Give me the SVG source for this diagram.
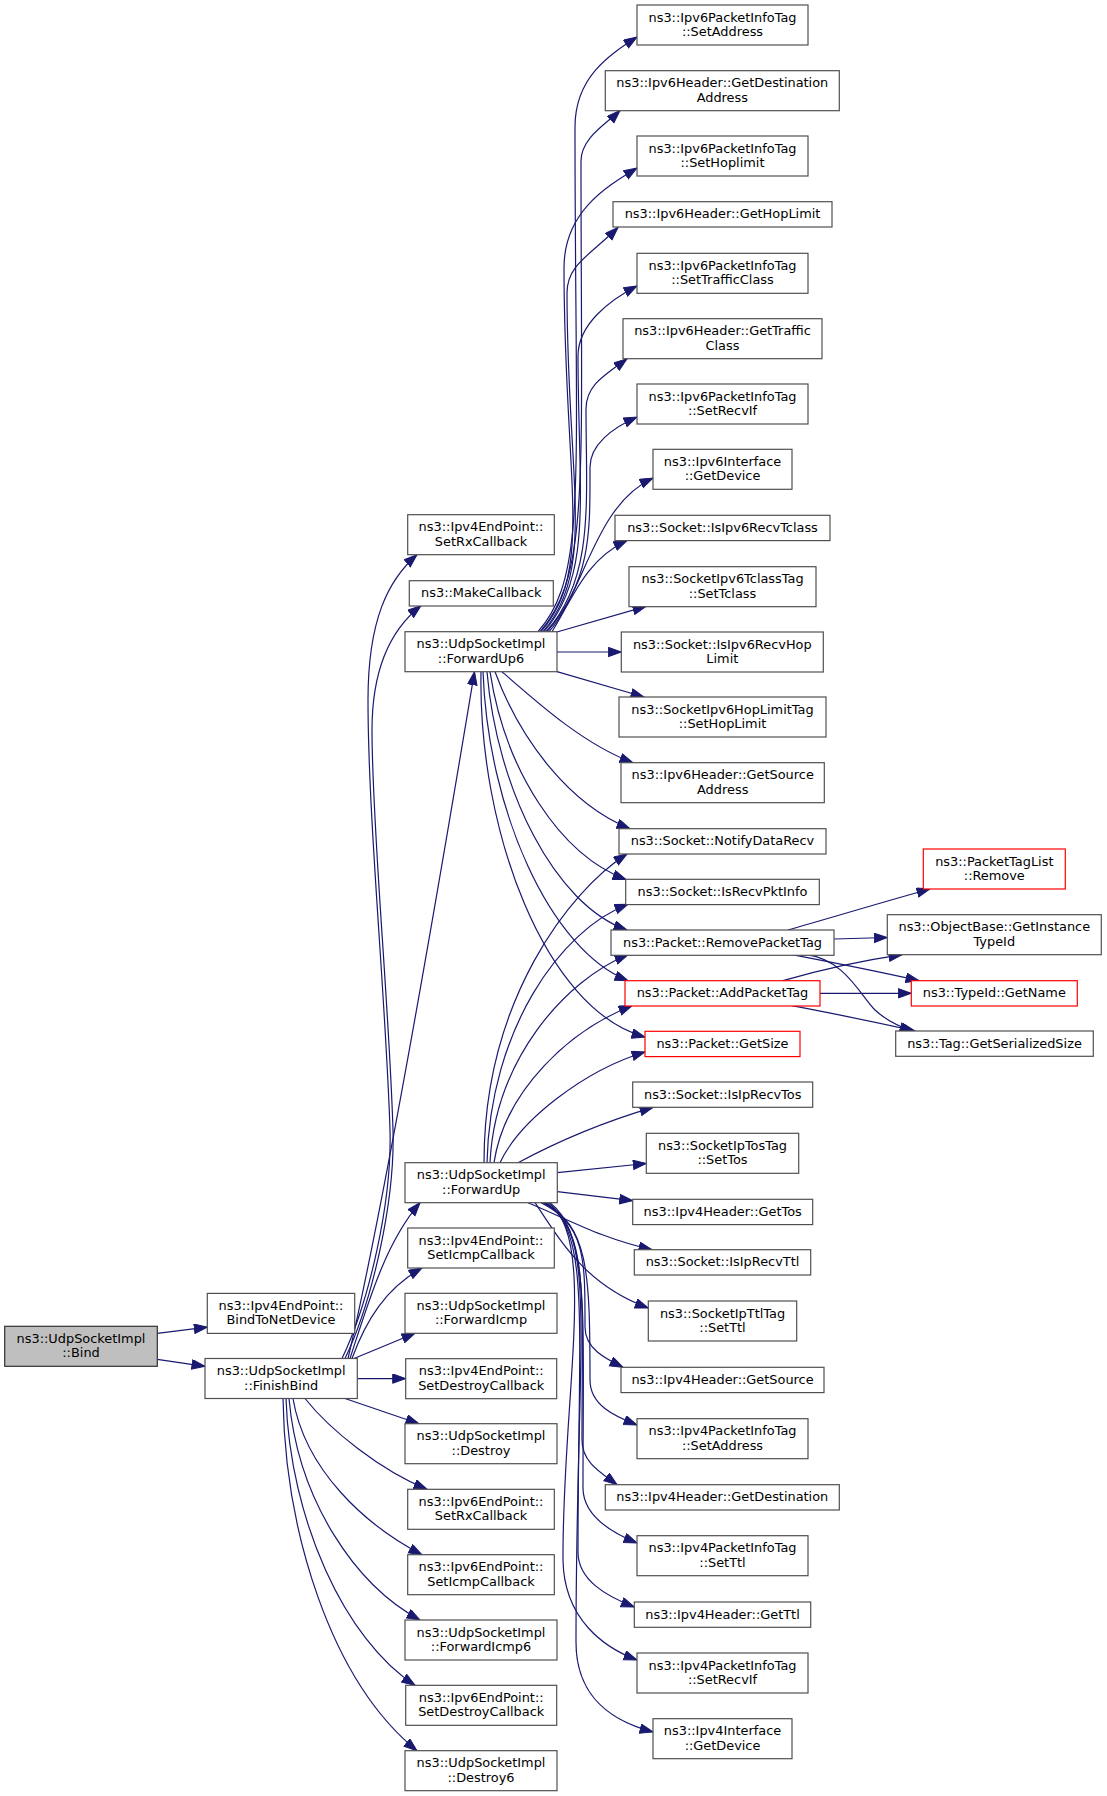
<svg xmlns="http://www.w3.org/2000/svg" width="1107" height="1796" viewBox="0 0 1107 1796">
<style>
.n rect{fill:#ffffff;stroke:#505050;stroke-width:1.2}
.r rect{fill:#ffffff;stroke:#ff0000;stroke-width:1.2}
.g rect{fill:#bfbfbf;stroke:#303030;stroke-width:1.2}
text{font-family:"DejaVu Sans","Liberation Sans",sans-serif;font-size:12.9px;fill:#000;text-anchor:middle}
#edges path{fill:none;stroke:#191970;stroke-width:1.2;marker-end:url(#ah)}
</style>
<defs>
<marker id="ah" markerUnits="userSpaceOnUse" markerWidth="15" markerHeight="11" refX="13.5" refY="5" orient="auto">
<path d="M0.5,0.3 L13.5,5 L0.5,9.7 Z" fill="#191970" stroke="#191970" stroke-width="1"/>
</marker>
</defs>
<rect x="0" y="0" width="1107" height="1796" fill="#ffffff"/>
<g id="edges">
<path d="M157.3,1333.3 L207.3,1327.2"/>
<path d="M157.3,1359.3 L205,1366.3"/>
<path d="M342,1358.5 C370,1300 392,1200 390,1130 C386,1000 368,820 368,700 C368,620 388,580 417,554.7"/>
<path d="M345,1358.5 C373,1300 395,1200 393,1130 C389,1000 372,830 372,730 C372,670 390,630 421,605.7"/>
<path d="M348,1358.5 Q390,1180 474.5,671.7"/>
<path d="M350,1358.5 C372,1290 388,1240 420,1202.7"/>
<path d="M352,1358.5 C366,1320 386,1288 422,1268"/>
<path d="M354,1358.5 L415,1333.3"/>
<path d="M357.3,1378.6 L405.7,1378.6"/>
<path d="M345,1398.5 L419,1423.7"/>
<path d="M305,1398.5 C330,1430 380,1470 427,1489.3"/>
<path d="M293,1398.5 C305,1470 365,1525 422,1554.7"/>
<path d="M289,1398.5 C298,1500 355,1585 420,1620"/>
<path d="M286,1398.5 C290,1520 345,1640 415,1685.3"/>
<path d="M283,1398.5 C285,1530 330,1680 417,1750.7"/>
<path d="M538,631.7 C588,575 575,480 575,127 C575,77.5 609,55 637,37"/>
<path d="M540,631.7 C590,575 581,480 581,161 C581,138 606,124 620,110.5"/>
<path d="M541,631.7 C595,570 564,480 564,268 C564,213 604,188 637,168"/>
<path d="M543,631.7 C597,570 567,480 567,293 C567,265 590,255 618,227.5"/>
<path d="M544,631.7 C594,575 578,490 578,356 C578,324 610,300 637,286"/>
<path d="M546,631.7 C595,578 586,500 586,409 C586,385 605,375 627,358.8"/>
<path d="M547,631.7 C592,580 590,530 590,467 C590,445 612,428 637,417"/>
<path d="M549,631.7 C585,590 595,505 653,478"/>
<path d="M552,631.7 C572,600 585,560 627,540.5"/>
<path d="M557,632 L646,606.3"/>
<path d="M557,652 L621.3,652"/>
<path d="M557,671.7 L644,697"/>
<path d="M502,671.7 C540,705 585,745 633,762.7"/>
<path d="M495,671.7 C520,740 570,805 630,828.7"/>
<path d="M490,671.7 C505,770 560,855 626,879.5"/>
<path d="M487,671.7 C497,790 555,905 627,930"/>
<path d="M483,671.7 C488,810 550,950 628,980.7"/>
<path d="M481,671.7 C478,830 545,1010 645,1037"/>
<path d="M484,1162.7 C484,1000 570,890 627,854"/>
<path d="M487,1162.7 C490,1030 560,930 628,904.3"/>
<path d="M490,1162.7 C495,1060 565,980 628,954.7"/>
<path d="M494,1162.7 C505,1090 570,1030 632,1005.7"/>
<path d="M500,1162.7 C520,1120 585,1070 645,1052"/>
<path d="M518,1162.7 C560,1140 610,1120 653,1107.3"/>
<path d="M557.3,1172.7 L646.3,1163.5"/>
<path d="M557.3,1191.7 L632.7,1200.7"/>
<path d="M528,1202.7 C570,1220 600,1238 652,1249.7"/>
<path d="M535,1202.7 C560,1240 585,1285 648.3,1308"/>
<path d="M541,1202.7 C586,1225 585,1260 585,1327 C585,1349 606,1359 623,1367.3"/>
<path d="M543,1202.7 C588,1225 590,1270 590,1380 C590,1405 614,1416 637,1425"/>
<path d="M544,1202.7 C589,1228 582,1290 582,1440 C582,1462 600,1472 617,1484.7"/>
<path d="M545,1202.7 C590,1230 583,1300 583,1488 C583,1515 610,1532 637,1543"/>
<path d="M546,1202.7 C591,1232 578,1320 578,1552 C578,1580 606,1596 634.3,1607"/>
<path d="M548,1202.7 C598,1235 562,1400 563,1560 C564,1620 605,1648 637,1660"/>
<path d="M550,1202.7 C598,1240 576,1350 576,1642 C576,1700 615,1722 653,1732"/>
<path d="M788,930 C830,918 890,900 930,889"/>
<path d="M834,939 L887.3,937.5"/>
<path d="M792,954.7 C830,962 880,972 919,980.7"/>
<path d="M807,954.7 C845,960 860,995 875,1010 C888,1022 900,1027 913,1031"/>
<path d="M783,980.7 C820,970 860,961 902,954.7"/>
<path d="M820,993.3 L911.3,993.3"/>
<path d="M792,1005.7 C830,1013 875,1022 915,1031"/>
</g>
<g id="node-bind" class="g"><rect x="4.7" y="1326.3" width="152.6" height="40"/><text x="81" y="1342.9">ns3::UdpSocketImpl</text><text x="81" y="1357.3">::Bind</text></g>
<g id="node-bindtonetdevice" class="n"><rect x="207.3" y="1293.4" width="147.4" height="40"/><text x="281" y="1310">ns3::Ipv4EndPoint::</text><text x="281" y="1324.4">BindToNetDevice</text></g>
<g id="node-finishbind" class="n"><rect x="205" y="1358.5" width="152.3" height="40"/><text x="281.2" y="1375.1">ns3::UdpSocketImpl</text><text x="281.2" y="1389.5">::FinishBind</text></g>
<g id="node-v4setrxcallback" class="n"><rect x="407.7" y="514.7" width="146.6" height="40"/><text x="481" y="531.3">ns3::Ipv4EndPoint::</text><text x="481" y="545.7">SetRxCallback</text></g>
<g id="node-makecallback" class="n"><rect x="409.3" y="580.7" width="144" height="25.3"/><text x="481.3" y="597.3">ns3::MakeCallback</text></g>
<g id="node-forwardup6" class="n"><rect x="405" y="631.7" width="152" height="40"/><text x="481" y="648.3">ns3::UdpSocketImpl</text><text x="481" y="662.7">::ForwardUp6</text></g>
<g id="node-forwardup" class="n"><rect x="405" y="1162.7" width="152.3" height="40"/><text x="481.2" y="1179.3">ns3::UdpSocketImpl</text><text x="481.2" y="1193.7">::ForwardUp</text></g>
<g id="node-v4seticmpcallback" class="n"><rect x="407.7" y="1228" width="146.6" height="40"/><text x="481" y="1244.6">ns3::Ipv4EndPoint::</text><text x="481" y="1259">SetIcmpCallback</text></g>
<g id="node-forwardicmp" class="n"><rect x="405" y="1293.3" width="152" height="40"/><text x="481" y="1309.9">ns3::UdpSocketImpl</text><text x="481" y="1324.3">::ForwardIcmp</text></g>
<g id="node-v4setdestroycallback" class="n"><rect x="405.7" y="1358.7" width="151" height="40"/><text x="481.2" y="1375.3">ns3::Ipv4EndPoint::</text><text x="481.2" y="1389.7">SetDestroyCallback</text></g>
<g id="node-destroy" class="n"><rect x="405" y="1423.7" width="152" height="40"/><text x="481" y="1440.3">ns3::UdpSocketImpl</text><text x="481" y="1454.7">::Destroy</text></g>
<g id="node-v6setrxcallback" class="n"><rect x="407.7" y="1489.3" width="146.6" height="40"/><text x="481" y="1505.9">ns3::Ipv6EndPoint::</text><text x="481" y="1520.3">SetRxCallback</text></g>
<g id="node-v6seticmpcallback" class="n"><rect x="407.7" y="1554.7" width="146.6" height="40"/><text x="481" y="1571.3">ns3::Ipv6EndPoint::</text><text x="481" y="1585.7">SetIcmpCallback</text></g>
<g id="node-forwardicmp6" class="n"><rect x="405" y="1620" width="152" height="40"/><text x="481" y="1636.6">ns3::UdpSocketImpl</text><text x="481" y="1651">::ForwardIcmp6</text></g>
<g id="node-v6setdestroycallback" class="n"><rect x="405.7" y="1685.3" width="151" height="40"/><text x="481.2" y="1701.9">ns3::Ipv6EndPoint::</text><text x="481.2" y="1716.3">SetDestroyCallback</text></g>
<g id="node-destroy6" class="n"><rect x="405" y="1750.7" width="152" height="40"/><text x="481" y="1767.3">ns3::UdpSocketImpl</text><text x="481" y="1781.7">::Destroy6</text></g>
<g id="node-v6pit-setaddress" class="n"><rect x="637" y="5" width="171" height="40"/><text x="722.5" y="21.6">ns3::Ipv6PacketInfoTag</text><text x="722.5" y="36">::SetAddress</text></g>
<g id="node-v6h-getdestinationaddress" class="n"><rect x="605.3" y="70.7" width="234" height="40"/><text x="722.3" y="87.3">ns3::Ipv6Header::GetDestination</text><text x="722.3" y="101.7">Address</text></g>
<g id="node-v6pit-sethoplimit" class="n"><rect x="637" y="136" width="171" height="40"/><text x="722.5" y="152.6">ns3::Ipv6PacketInfoTag</text><text x="722.5" y="167">::SetHoplimit</text></g>
<g id="node-v6h-gethoplimit" class="n"><rect x="613" y="201.7" width="219" height="25.3"/><text x="722.5" y="218.3">ns3::Ipv6Header::GetHopLimit</text></g>
<g id="node-v6pit-settrafficclass" class="n"><rect x="637" y="253.3" width="171" height="40"/><text x="722.5" y="269.9">ns3::Ipv6PacketInfoTag</text><text x="722.5" y="284.3">::SetTrafficClass</text></g>
<g id="node-v6h-gettrafficclass" class="n"><rect x="623" y="318.7" width="199" height="40"/><text x="722.5" y="335.3">ns3::Ipv6Header::GetTraffic</text><text x="722.5" y="349.7">Class</text></g>
<g id="node-v6pit-setrecvif" class="n"><rect x="637" y="384" width="171" height="40"/><text x="722.5" y="400.6">ns3::Ipv6PacketInfoTag</text><text x="722.5" y="415">::SetRecvIf</text></g>
<g id="node-v6if-getdevice" class="n"><rect x="653" y="449.3" width="139" height="40"/><text x="722.5" y="465.9">ns3::Ipv6Interface</text><text x="722.5" y="480.3">::GetDevice</text></g>
<g id="node-isipv6recvtclass" class="n"><rect x="615" y="515.3" width="215" height="25.3"/><text x="722.5" y="531.9">ns3::Socket::IsIpv6RecvTclass</text></g>
<g id="node-settclass" class="n"><rect x="629" y="566.7" width="187" height="40"/><text x="722.5" y="583.3">ns3::SocketIpv6TclassTag</text><text x="722.5" y="597.7">::SetTclass</text></g>
<g id="node-isipv6recvhoplimit" class="n"><rect x="621.3" y="632" width="202" height="40"/><text x="722.3" y="648.6">ns3::Socket::IsIpv6RecvHop</text><text x="722.3" y="663">Limit</text></g>
<g id="node-sethoplimit" class="n"><rect x="619" y="697" width="207" height="40"/><text x="722.5" y="713.6">ns3::SocketIpv6HopLimitTag</text><text x="722.5" y="728">::SetHopLimit</text></g>
<g id="node-v6h-getsourceaddress" class="n"><rect x="621" y="762.7" width="203.3" height="40"/><text x="722.7" y="779.3">ns3::Ipv6Header::GetSource</text><text x="722.7" y="793.7">Address</text></g>
<g id="node-notifydatarecv" class="n"><rect x="619" y="828.7" width="207" height="25.3"/><text x="722.5" y="845.3">ns3::Socket::NotifyDataRecv</text></g>
<g id="node-isrecvpktinfo" class="n"><rect x="625.7" y="879.3" width="193.6" height="25.3"/><text x="722.5" y="895.9">ns3::Socket::IsRecvPktInfo</text></g>
<g id="node-removepackettag" class="n"><rect x="611" y="930" width="223" height="25.3"/><text x="722.5" y="946.6">ns3::Packet::RemovePacketTag</text></g>
<g id="node-addpackettag" class="r"><rect x="625" y="980.7" width="195" height="25.3"/><text x="722.5" y="997.3">ns3::Packet::AddPacketTag</text></g>
<g id="node-getsize" class="r"><rect x="645" y="1031.3" width="155" height="25.3"/><text x="722.5" y="1047.9">ns3::Packet::GetSize</text></g>
<g id="node-isiprecvtos" class="n"><rect x="632.7" y="1082" width="180" height="25.3"/><text x="722.7" y="1098.6">ns3::Socket::IsIpRecvTos</text></g>
<g id="node-settos" class="n"><rect x="646.3" y="1133.3" width="152.4" height="40"/><text x="722.5" y="1149.9">ns3::SocketIpTosTag</text><text x="722.5" y="1164.3">::SetTos</text></g>
<g id="node-v4h-gettos" class="n"><rect x="632.7" y="1199.3" width="180" height="25.3"/><text x="722.7" y="1215.9">ns3::Ipv4Header::GetTos</text></g>
<g id="node-isiprecvttl" class="n"><rect x="634.3" y="1249.7" width="176.4" height="25.3"/><text x="722.5" y="1266.3">ns3::Socket::IsIpRecvTtl</text></g>
<g id="node-setttl" class="n"><rect x="648.3" y="1301" width="148.4" height="40"/><text x="722.5" y="1317.6">ns3::SocketIpTtlTag</text><text x="722.5" y="1332">::SetTtl</text></g>
<g id="node-v4h-getsource" class="n"><rect x="621" y="1367.3" width="203" height="25.3"/><text x="722.5" y="1383.9">ns3::Ipv4Header::GetSource</text></g>
<g id="node-v4pit-setaddress" class="n"><rect x="637" y="1418.7" width="171" height="40"/><text x="722.5" y="1435.3">ns3::Ipv4PacketInfoTag</text><text x="722.5" y="1449.7">::SetAddress</text></g>
<g id="node-v4h-getdestination" class="n"><rect x="605.3" y="1484.7" width="234" height="25.3"/><text x="722.3" y="1501.3">ns3::Ipv4Header::GetDestination</text></g>
<g id="node-v4pit-setttl" class="n"><rect x="637" y="1535.7" width="171" height="40"/><text x="722.5" y="1552.3">ns3::Ipv4PacketInfoTag</text><text x="722.5" y="1566.7">::SetTtl</text></g>
<g id="node-v4h-getttl" class="n"><rect x="634.3" y="1602" width="176.4" height="25.3"/><text x="722.5" y="1618.6">ns3::Ipv4Header::GetTtl</text></g>
<g id="node-v4pit-setrecvif" class="n"><rect x="637" y="1653" width="171" height="40"/><text x="722.5" y="1669.6">ns3::Ipv4PacketInfoTag</text><text x="722.5" y="1684">::SetRecvIf</text></g>
<g id="node-v4if-getdevice" class="n"><rect x="653" y="1718.7" width="139" height="40"/><text x="722.5" y="1735.3">ns3::Ipv4Interface</text><text x="722.5" y="1749.7">::GetDevice</text></g>
<g id="node-packettaglist-remove" class="r"><rect x="923.3" y="849" width="142" height="40"/><text x="994.3" y="865.6">ns3::PacketTagList</text><text x="994.3" y="880">::Remove</text></g>
<g id="node-getinstancetypeid" class="n"><rect x="887.3" y="914.7" width="214" height="40"/><text x="994.3" y="931.3">ns3::ObjectBase::GetInstance</text><text x="994.3" y="945.7">TypeId</text></g>
<g id="node-typeid-getname" class="r"><rect x="911.3" y="980.7" width="166" height="25.3"/><text x="994.3" y="997.3">ns3::TypeId::GetName</text></g>
<g id="node-tag-getserializedsize" class="n"><rect x="895.7" y="1031" width="197.6" height="25.3"/><text x="994.5" y="1047.6">ns3::Tag::GetSerializedSize</text></g>
</svg>
